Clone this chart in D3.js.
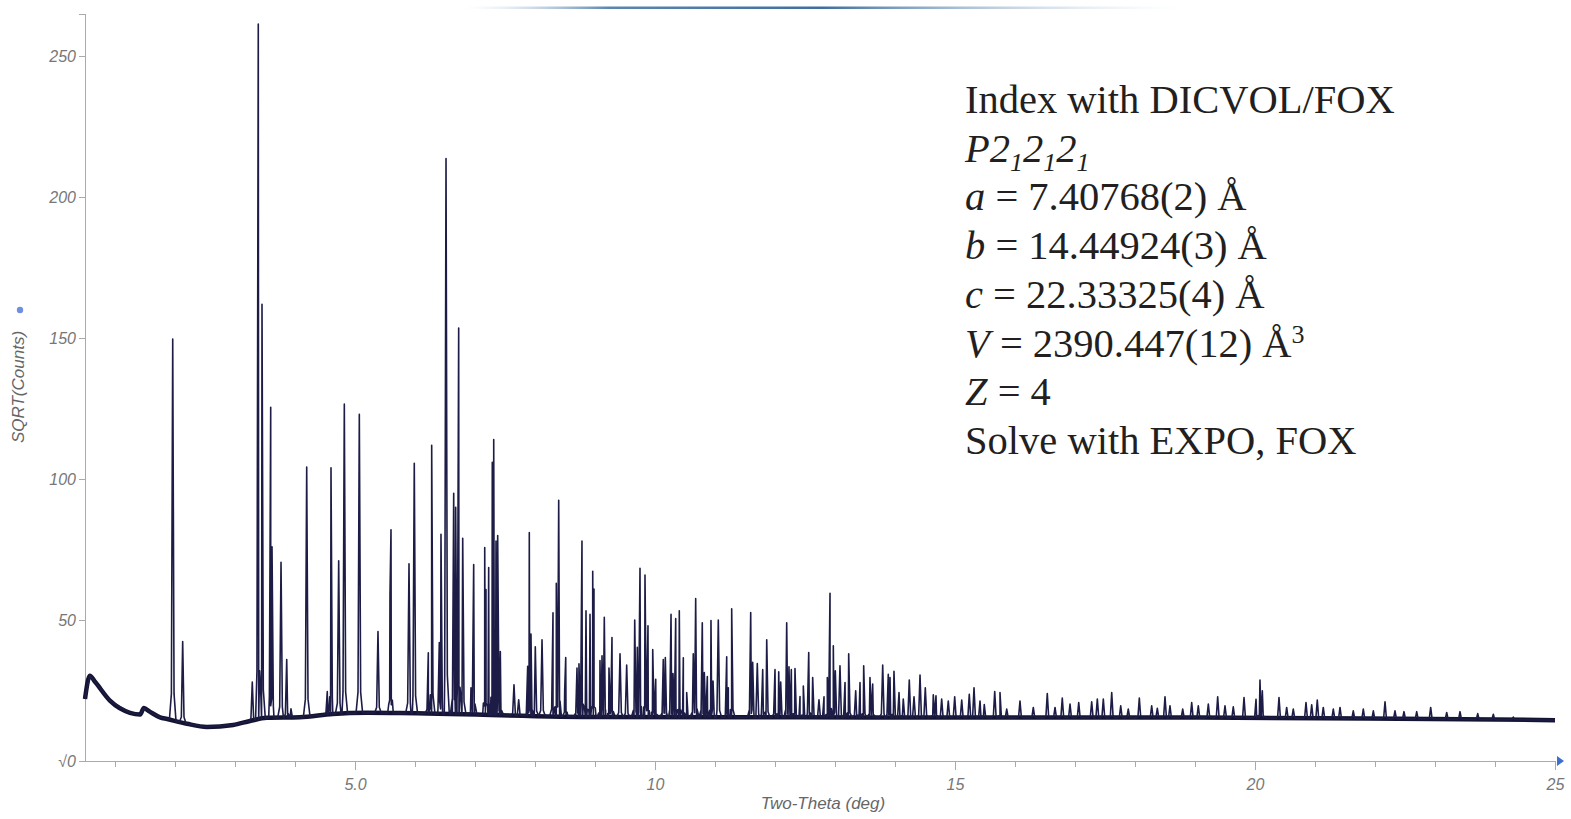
<!DOCTYPE html>
<html>
<head>
  <meta charset="utf-8">
  <title>Powder pattern</title>
  <style>
    body { margin: 0; background: #fff; }
    svg { display: block; }
    .axis path, .axis line { stroke: #aaa; shape-rendering: crispEdges; }
    .axis text { fill: #777; font: italic 16px "Liberation Sans", Arial, sans-serif; }
    .note { fill: #231f20; font: 40.5px "Liberation Serif", "Times New Roman", serif; }
  </style>
</head>
<body>
<div id="chart1"></div>
<script src="https://cdn.jsdelivr.net/npm/d3@7"></script>
<script>
// background level, [two-theta, sqrt(counts)]
var background = [
  [0.50, 22.0], [0.58, 30.2], [0.67, 28.0], [0.92, 21.3], [1.25, 17.1], [1.42, 16.5],
  [1.48, 18.8], [1.58, 17.5], [1.75, 15.5], [1.87, 14.9], [2.20, 13.2], [2.53, 12.1],
  [2.97, 12.8], [3.25, 14.2], [3.53, 15.3], [4.08, 15.5], [4.63, 16.7], [5.20, 17.1],
  [5.75, 17.0], [9.08, 15.6], [12.4, 15.5], [15.75, 15.4], [19.08, 15.4], [22.4, 15.0],
  [25.0, 14.5]
];

// peaks below 6 deg
var peaksLow = [
  [1.962, 149.7], [2.128, 42.4], [3.288, 28.0], [3.388, 261.4], [3.450, 162.0],
  [3.595, 125.5], [3.617, 76.0], [3.767, 70.5], [3.862, 36.0], [3.933, 18.5],
  [4.195, 104.3], [4.538, 24.6], [4.600, 104.0], [4.728, 71.0], [4.822, 126.6],
  [5.072, 123.0], [5.383, 45.9], [5.583, 58.7], [5.600, 82.0], [5.900, 70.0],
  [5.988, 105.6]
];

// peaks 6 - 9 deg
var peaksMid = [
  [6.222, 38.4], [6.278, 112.0], [6.405, 42.0], [6.433, 80.4], [6.517, 213.7],
  [6.645, 95.0], [6.678, 90.0], [6.728, 153.6], [6.795, 79.0], [6.933, 26.0],
  [6.978, 69.7], [7.162, 75.7], [7.183, 60.8], [7.228, 68.6], [7.288, 106.0],
  [7.312, 114.0], [7.350, 78.0], [7.378, 80.0], [7.422, 38.8], [7.650, 27.0],
  [7.728, 21.7], [7.878, 33.6], [7.905, 81.0], [7.933, 45.0], [8.005, 40.5],
  [8.117, 43.0], [8.300, 52.6], [8.355, 63.0], [8.395, 92.5], [8.495, 25.0],
  [8.512, 36.7], [8.700, 33.0], [8.733, 34.5], [8.783, 78.0], [8.850, 53.3],
  [8.917, 52.0], [8.962, 67.3], [8.983, 61.0]
];

// peaks 9 - 13 deg
var peaksHigh = [
  [9.083, 35.6], [9.117, 37.3], [9.155, 51.0], [9.233, 33.0], [9.283, 43.8],
  [9.417, 38.0], [9.528, 34.0], [9.662, 50.0], [9.705, 40.3], [9.750, 68.4],
  [9.833, 66.0], [9.883, 48.0], [9.962, 39.5], [10.012, 29.0], [10.138, 36.0],
  [10.172, 36.7], [10.267, 52.0], [10.300, 31.0], [10.345, 50.5], [10.405, 53.3],
  [10.472, 36.6], [10.528, 24.3], [10.638, 38.0], [10.678, 57.6], [10.788, 49.0],
  [10.822, 31.4], [10.872, 30.0], [10.933, 49.8], [10.967, 28.4], [11.055, 50.0],
  [11.195, 37.0], [11.222, 26.0], [11.278, 54.0], [11.595, 52.7], [11.628, 35.0],
  [11.705, 34.6], [11.795, 32.4], [11.862, 43.0], [12.000, 32.4], [12.062, 31.6],
  [12.095, 28.0], [12.195, 49.0], [12.233, 33.4], [12.272, 32.4], [12.333, 32.8],
  [12.417, 22.9], [12.472, 26.6], [12.562, 38.5], [12.628, 29.6], [12.733, 21.7],
  [12.817, 22.8], [12.872, 29.6], [12.917, 59.5], [12.972, 40.9]
];

// small peaks above 13 deg
var peaksTail = [
  [13.005, 32.0], [13.083, 33.8], [13.167, 27.8], [13.228, 38.0], [13.345, 24.9],
  [13.417, 27.8], [13.478, 33.8], [13.583, 29.6], [13.628, 27.3], [13.795, 34.0],
  [13.888, 30.8], [13.917, 29.6], [13.983, 31.8], [14.067, 24.3], [14.138, 22.0],
  [14.238, 28.7], [14.317, 22.8], [14.417, 30.5], [14.505, 26.0], [14.638, 23.5],
  [14.683, 23.1], [14.778, 22.0], [14.888, 21.3], [14.995, 22.8], [15.112, 21.6],
  [15.238, 23.7], [15.317, 26.0], [15.417, 21.3], [15.488, 20.0], [15.662, 24.6],
  [15.750, 24.3], [15.862, 18.4], [16.083, 21.3], [16.305, 19.0], [16.538, 23.9],
  [16.667, 19.0], [16.788, 22.3], [16.917, 20.2], [17.062, 20.7], [17.278, 21.0],
  [17.372, 22.0], [17.472, 22.0], [17.612, 24.3], [17.762, 19.6], [17.888, 18.4],
  [18.072, 22.3], [18.278, 19.6], [18.372, 18.7], [18.500, 22.8], [18.583, 19.6],
  [18.795, 18.4], [18.945, 20.7], [19.055, 19.6], [19.222, 20.2], [19.378, 22.8],
  [19.500, 19.6], [19.638, 19.2], [19.817, 22.5], [20.017, 21.9], [20.083, 28.7],
  [20.122, 24.9], [20.400, 22.5], [20.528, 19.0], [20.638, 18.4], [20.850, 20.7],
  [20.945, 19.9], [21.038, 21.6], [21.138, 19.0], [21.305, 18.4], [21.417, 19.0],
  [21.638, 17.8], [21.805, 18.4], [21.972, 17.8], [22.167, 21.0], [22.333, 17.8],
  [22.483, 17.5], [22.695, 17.5], [22.928, 19.0], [23.195, 17.2], [23.417, 17.5],
  [23.712, 16.8], [23.972, 16.6], [24.305, 15.6]
];

var xTicks = [5, 10, 15, 20, 25];
var xTickLabels = ["5.0", "10", "15", "20", "25"];
var yTicks = [0, 50, 100, 150, 200, 250];
var yTickLabels = ["\u221A0", "50", "100", "150", "200", "250"];

var width = 1571, height = 819;
var mLeft = 85, mRight = 1555, mTop = 14, mBottom = 761;

var svg = d3.select('#chart1').append('svg')
    .attr('width', width)
    .attr('height', height);

var x = d3.scaleLinear().domain([0.5, 25]).range([mLeft, mRight]);
var y = d3.scaleLinear().domain([0, 265]).range([mBottom, mTop]);

// faded title rule at the very top (title itself is cut off)
var grad = svg.append('defs').append('linearGradient').attr('id', 'titleRule');
grad.append('stop').attr('offset', '0%').attr('stop-color', '#c8d8e8').attr('stop-opacity', 0);
grad.append('stop').attr('offset', '20%').attr('stop-color', '#5b86b0');
grad.append('stop').attr('offset', '50%').attr('stop-color', '#3d6f9e');
grad.append('stop').attr('offset', '100%').attr('stop-color', '#c8d8e8').attr('stop-opacity', 0);
svg.append('rect')
    .attr('x', 466).attr('y', 6.5).attr('width', 714).attr('height', 2.5)
    .attr('fill', 'url(#titleRule)');

// axes
var xMinor = d3.range(1, 25);
svg.append('g').attr('class', 'axis')
    .attr('transform', 'translate(0,' + mBottom + ')')
    .call(d3.axisBottom(x).tickValues(xMinor).tickSize(6).tickSizeOuter(0).tickFormat(''));
var xAxis = svg.append('g').attr('class', 'axis')
    .attr('transform', 'translate(0,' + mBottom + ')')
    .call(d3.axisBottom(x).tickValues(xTicks).tickSize(9).tickSizeOuter(0)
      .tickFormat(function(d, i) { return xTickLabels[i]; }));
xAxis.selectAll('text').attr('dy', '1.05em');

svg.append('path')
    .attr('d', 'M' + (mRight + 2) + ',' + (mBottom - 5) + 'l7,5l-7,5z')
    .attr('fill', '#3b6fd0');

var yAxis = svg.append('g').attr('class', 'axis')
    .attr('transform', 'translate(' + mLeft + ',0)')
    .call(d3.axisLeft(y).tickValues(yTicks).tickSize(6).tickSizeOuter(6)
      .tickFormat(function(d, i) { return yTickLabels[i]; }));
yAxis.selectAll('text').attr('x', -9);

svg.append('text')
    .attr('x', 823).attr('y', 809)
    .attr('text-anchor', 'middle')
    .style('font', 'italic 17px "Liberation Sans", Arial, sans-serif')
    .style('fill', '#666')
    .text('Two-Theta (deg)');

svg.append('text')
    .attr('transform', 'translate(24,387) rotate(-90)')
    .attr('text-anchor', 'middle')
    .style('font', 'italic 17px "Liberation Sans", Arial, sans-serif')
    .style('fill', '#666')
    .text('SQRT(Counts)');
svg.append('circle')
    .attr('cx', 20).attr('cy', 310).attr('r', 3.2)
    .attr('fill', '#6f8fe0');

// pattern: background plus narrow peaks with small feet
var bgAt = d3.scaleLinear()
    .domain(background.map(function(d) { return d[0]; }))
    .range(background.map(function(d) { return d[1]; }));

var hw = 0.022, foot = 0.055;
var pts = background.slice();
peaksLow.concat(peaksMid, peaksHigh, peaksTail).forEach(function(p) {
    var b = bgAt(p[0]);
    pts.push([p[0] - foot, bgAt(p[0] - foot)]);
    pts.push([p[0] - hw, b + (p[1] - b) * 0.07]);
    pts.push([p[0], p[1]]);
    pts.push([p[0] + hw, b + (p[1] - b) * 0.07]);
    pts.push([p[0] + foot, bgAt(p[0] + foot)]);
});
pts.sort(function(a, b) { return a[0] - b[0]; });

var line = d3.line()
    .x(function(d) { return x(d[0]); })
    .y(function(d) { return y(d[1]); });

svg.append('path')
    .datum(background)
    .attr('d', line.curve(d3.curveMonotoneX))
    .attr('fill', 'none')
    .attr('stroke', '#141432')
    .attr('stroke-width', 4.5);

svg.append('path')
    .datum(pts)
    .attr('d', line.curve(d3.curveLinear))
    .attr('fill', 'none')
    .attr('stroke', '#1c1c46')
    .attr('stroke-width', 1.6)
    .attr('stroke-linejoin', 'round');

// cell parameters
var note = svg.append('text').attr('class', 'note');
var lh = 48.7, nx = 965, ny = 113;

function row(i) {
    return note.append('tspan').attr('x', nx).attr('y', ny + i * lh);
}

row(0).text('Index with DICVOL/FOX');

row(1).style('font-style', 'italic').text('P2');
['1', '2', '1', '2', '1'].forEach(function(s) {
    var sub = s === '1';
    note.append('tspan')
        .attr('dy', sub ? 9 : -9)
        .style('font-style', 'italic')
        .style('font-size', sub ? '26px' : '40.5px')
        .text(s);
});

var cells = [
  ['a', ' = 7.40768(2) \u00C5', ''],
  ['b', ' = 14.44924(3) \u00C5', ''],
  ['c', ' = 22.33325(4) \u00C5', ''],
  ['V', ' = 2390.447(12) \u00C5', '3'],
  ['Z', ' = 4', '']
];
cells.forEach(function(c, i) {
    row(i + 2).style('font-style', 'italic').text(c[0]);
    note.append('tspan').text(c[1]);
    if (c[2]) {
        note.append('tspan').attr('dy', -14).style('font-size', '26px').text(c[2]);
    }
});

row(7).text('Solve with EXPO, FOX');
</script>
</body>
</html>
